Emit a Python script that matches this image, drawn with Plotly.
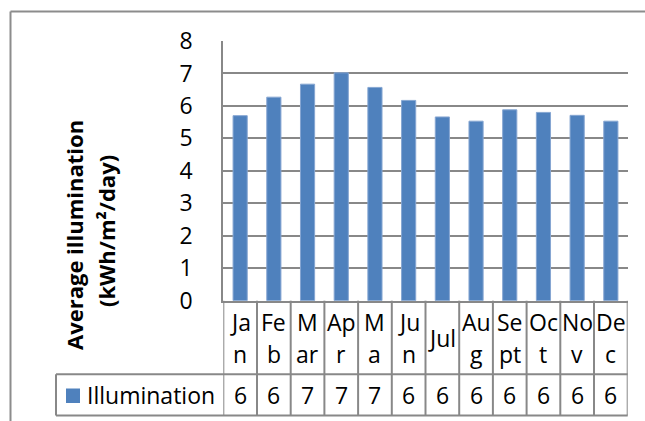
import plotly.graph_objects as go

# Monthly average illumination (kWh/m²/day)
months = ["Ja\nn", "Fe\nb", "M\nar", "Ap\nr", "M\na", "Ju\nn",
          "Jul", "Au\ng", "Se\npt", "Oc\nt", "No\nv", "De\nc"]
illumination = [5.70, 6.27, 6.67, 7.02, 6.57, 6.17, 5.66, 5.53, 5.88, 5.80, 5.71, 5.53]
series_name = "Illumination"
y_ticks = [0, 1, 2, 3, 4, 5, 6, 7, 8]
y_title = ["Average illumination", "(kWh/m²/day)"]

W, H = 645, 421
FONT = "Open Sans, Noto Sans, Lato, sans-serif"
FS = 23
FS_TITLE = 22
GRID = "#888888"
BAR = "#4F81BD"


def px(x):
    return x / W


def py(y):
    return 1 - y / H


# plot-area edges in pixels
LEFT, RIGHT, TOP, BOTTOM = 223.3, 627.7, 41.0, 300.7
ROW1_BOT, ROW2_BOT = 374.3, 415.5
LEGEND_LEFT = 56.0

x_idx = list(range(len(months)))

fig = go.Figure()
fig.add_trace(go.Bar(
    x=x_idx, y=illumination, name=series_name,
    marker=dict(color=BAR, line=dict(color="#86a6d2", width=1)),
    width=0.42, showlegend=False,
))

shapes = []
annotations = []

# outer chart frame (top and left edges)
shapes.append(dict(type="line", xref="paper", yref="paper",
                   x0=px(10.5), x1=px(W + 5), y0=py(11.5), y1=py(11.5),
                   line=dict(color="#8c8c8c", width=2)))
shapes.append(dict(type="line", xref="paper", yref="paper",
                   x0=px(10.5), x1=px(10.5), y0=py(11.5), y1=py(H + 5),
                   line=dict(color="#8c8c8c", width=2)))

# data table: vertical cell borders
for k in range(len(months) + 1):
    shapes.append(dict(type="line", xref="x", yref="paper",
                       x0=k - 0.5, x1=k - 0.5, y0=py(BOTTOM), y1=py(ROW2_BOT),
                       line=dict(color=GRID, width=2)))
# horizontal borders
for yy in (ROW1_BOT, ROW2_BOT):
    shapes.append(dict(type="line", xref="paper", yref="paper",
                       x0=px(LEGEND_LEFT), x1=px(RIGHT), y0=py(yy), y1=py(yy),
                       line=dict(color=GRID, width=2)))
shapes.append(dict(type="line", xref="paper", yref="paper",
                   x0=px(LEGEND_LEFT), x1=px(LEGEND_LEFT), y0=py(ROW1_BOT), y1=py(ROW2_BOT),
                   line=dict(color=GRID, width=2)))

# legend key in the table
shapes.append(dict(type="rect", xref="paper", yref="paper",
                   x0=px(66), x1=px(80), y0=py(403), y1=py(388.5),
                   fillcolor=BAR, line=dict(width=0)))
annotations.append(dict(text=series_name, xref="paper", yref="paper",
                        x=px(85), y=py(395), xanchor="left", yanchor="middle",
                        showarrow=False, font=dict(family=FONT, size=FS, color="black")))

# category labels (wrapped inside narrow cells)
row1_mid = (BOTTOM + ROW1_BOT) / 2
for i, lab in enumerate(months):
    parts = lab.split("\n")
    if len(parts) == 1:
        annotations.append(dict(text=parts[0], xref="x", yref="paper", x=i, y=py(row1_mid),
                                xanchor="center", yanchor="middle", showarrow=False,
                                font=dict(family=FONT, size=FS, color="black")))
    else:
        for part, yc in zip(parts, [row1_mid - 16, row1_mid + 16]):
            annotations.append(dict(text=part, xref="x", yref="paper", x=i, y=py(yc),
                                    xanchor="center", yanchor="middle", showarrow=False,
                                    font=dict(family=FONT, size=FS, color="black")))

# value row (rounded values)
row2_mid = (ROW1_BOT + ROW2_BOT) / 2
for i, v in enumerate(illumination):
    annotations.append(dict(text=str(int(round(v))), xref="x", yref="paper", x=i, y=py(row2_mid),
                            xanchor="center", yanchor="middle", showarrow=False,
                            font=dict(family=FONT, size=FS, color="black")))

# y-axis title, two bold lines rotated
for line, xc, yc in zip(y_title, [74, 106], [235, 231]):
    annotations.append(dict(text="<b>" + line + "</b>", xref="paper", yref="paper",
                            x=px(xc), y=py(yc), xanchor="center", yanchor="middle",
                            textangle=-90, showarrow=False,
                            font=dict(family=FONT, size=FS_TITLE, color="black")))

fig.update_layout(
    width=W, height=H, autosize=False,
    margin=dict(l=0, r=0, t=0, b=0, pad=0, autoexpand=False),
    paper_bgcolor="white", plot_bgcolor="white",
    shapes=shapes, annotations=annotations,
    xaxis=dict(domain=[px(LEFT), px(RIGHT)], range=[-0.5, len(months) - 0.5],
               showticklabels=False, showgrid=False, zeroline=False, automargin=False,
               showline=True, linecolor=GRID, linewidth=2, ticks=""),
    yaxis=dict(domain=[py(BOTTOM), py(TOP)], range=[0, 8], tickvals=y_ticks,
               showgrid=True, gridcolor=GRID, gridwidth=1.5, automargin=False,
               zeroline=False, showline=True, linecolor=GRID, linewidth=2,
               ticks="", ticklabelstandoff=24,
               tickfont=dict(family=FONT, size=FS, color="black")),
    bargap=0.58,
)

fig.write_html("out.html")
